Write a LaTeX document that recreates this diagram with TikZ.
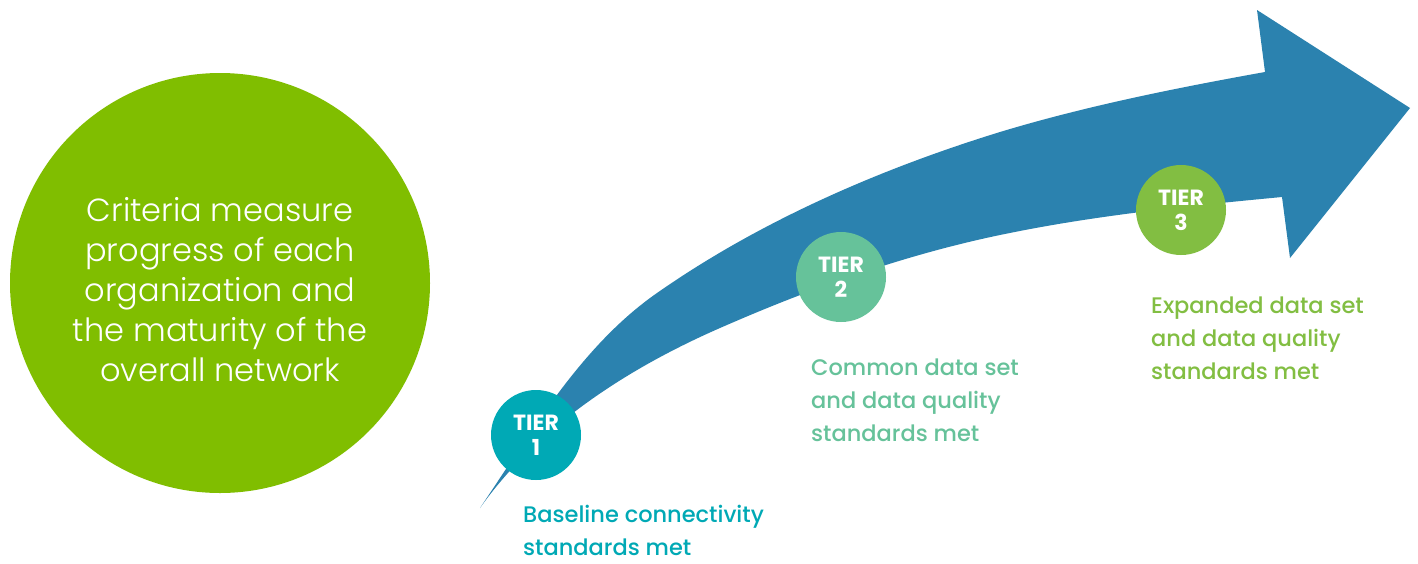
\documentclass[tikz,border=0pt]{standalone}
\usepackage{fontspec}
\setmainfont{Poppins}
\newfontfamily\poplight{Poppins Light}
\newfontfamily\popmed{Poppins Medium}
\definecolor{arrowblue}{HTML}{2B82AF}
\definecolor{bigg}{HTML}{80BE00}
\definecolor{tone}{HTML}{00A9B5}
\definecolor{ttwo}{HTML}{66C29A}
\definecolor{tthree}{HTML}{82BE42}
\tikzset{
  tier/.style={circle, minimum size=90pt, inner sep=0pt, text=white, align=center,
    font=\bfseries\fontsize{22}{25}\selectfont},
  lbl/.style={anchor=north west, inner sep=0pt, align=left,
    font=\popmed\fontsize{22.5}{33}\selectfont},
}
\begin{document}
\begin{tikzpicture}[x=1pt,y=-1pt]
\useasboundingbox (0,0) rectangle (1418,563);
\fill[white] (0,0) rectangle (1418,563);
% big circle
\node[circle, fill=bigg, minimum size=420pt, inner sep=0pt] (big) at (220,283) {};
\node[text=white, align=center, inner sep=0pt, font=\poplight\fontsize{32}{40}\selectfont] (bigtext) at (220,290)
  {Criteria measure\\progress of each\\organization and\\the maturity of the\\overall network};
% arrow
\fill[arrowblue] (480,508)
  .. controls (532,431) and (581,346) .. (657,293)
  .. controls (760,221) and (880,169) .. (1000,132)
  .. controls (1086,106) and (1176,88) .. (1265,72)
  -- (1257,10) -- (1410,108) -- (1290,258) -- (1282,197)
  .. controls (1187,206) and (1093,215.5) .. (1000,235)
  .. controls (904,255) and (810,288.5) .. (720,328)
  .. controls (628.5,368) and (538,426) .. (480,508) -- cycle;
% tiers
\node[tier, fill=tone] (t1) at (536,435) {TIER\\1};
\node[tier, fill=ttwo] (t2) at (841,277) {TIER\\2};
\node[tier, fill=tthree] (t3) at (1181,210) {TIER\\3};
% labels
\node[lbl, text=tone] (l1) at (523,505) {Baseline connectivity\\standards met};
\node[lbl, text=ttwo] (l2) at (811,359) {Common data set\\and data quality\\standards met};
\node[lbl, text=tthree] (l3) at (1151,297) {Expanded data set\\and data quality\\standards met};
\end{tikzpicture}
\end{document}
